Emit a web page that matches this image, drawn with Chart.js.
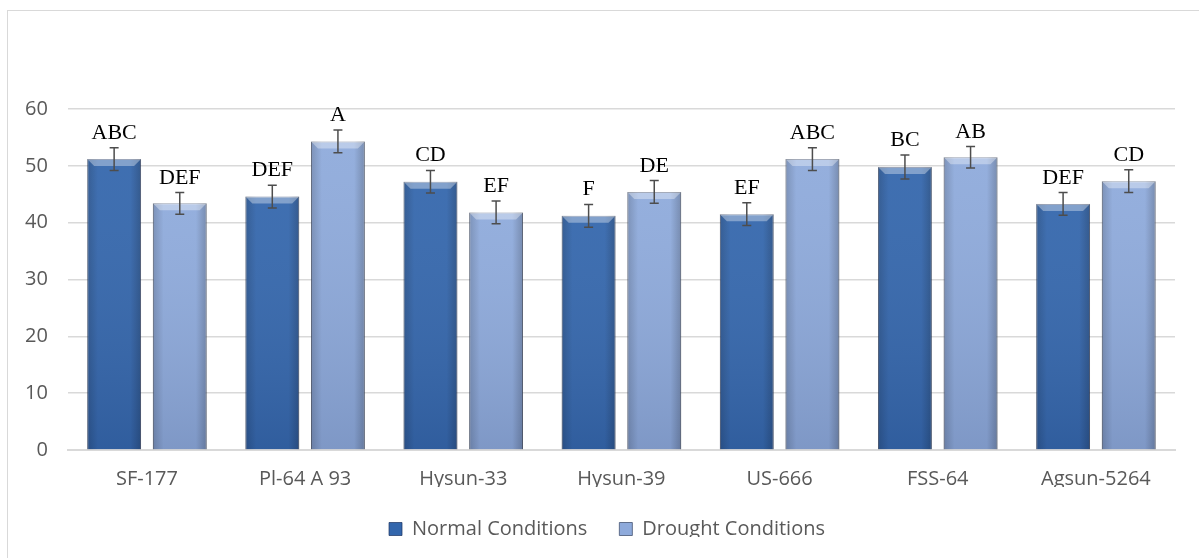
<!DOCTYPE html>
<html>
<head>
<meta charset="utf-8">
<script src="https://cdn.jsdelivr.net/npm/chart.js@4.4.0/dist/chart.umd.min.js"></script>
<style>
    html, body { margin: 0; padding: 0; background: #fff; }
    #wrap { width: 1199px; height: 558px; position: relative; }
</style>
</head>
<body>
<div id="wrap"><canvas id="chart"></canvas></div>
<script>
// Data
const categories = ['SF-177', 'Pl-64 A 93', 'Hysun-33', 'Hysun-39', 'US-666', 'FSS-64', 'Agsun-5264'];
const normalValues = [51.2, 44.6, 47.2, 41.2, 41.5, 49.8, 43.3];
const droughtValues = [43.4, 54.3, 41.8, 45.4, 51.2, 51.5, 47.3];
const normalErrors = [2.0, 2.0, 2.0, 2.0, 2.0, 2.1, 2.0];
const droughtErrors = [1.9, 2.0, 2.0, 2.0, 2.0, 1.9, 2.0];
const normalLetters = ['ABC', 'DEF', 'CD', 'F', 'EF', 'BC', 'DEF'];
const droughtLetters = ['DEF', 'A', 'EF', 'DE', 'ABC', 'AB', 'CD'];
const yTicks = [0, 10, 20, 30, 40, 50, 60];

const errorsByDataset = [normalErrors, droughtErrors];
const lettersByDataset = [normalLetters, droughtLetters];

// Light frame around the chart, like the Excel chart area
const frame = {
    id: 'frame',
    beforeDraw(chart) {
        const ctx = chart.ctx;
        ctx.save();
        ctx.fillStyle = '#fff';
        ctx.fillRect(0, 0, chart.width, chart.height);
        ctx.strokeStyle = '#d9d9d9';
        ctx.lineWidth = 1;
        ctx.strokeRect(7.5, 10.5, chart.width + 20, chart.height + 20);
        ctx.restore();
    }
};

// The original legend sits a little right of the plot centre
const legendShift = {
    id: 'legendShift',
    afterLayout(chart) {
        if (chart.legend) {
            chart.legend.left += 17;
            chart.legend.right += 17;
        }
    }
};

// Bevel shading, error bars and letter labels on each bar
const barDecor = {
    id: 'barDecor',
    afterDatasetsDraw(chart) {
        const ctx = chart.ctx;
        const yScale = chart.scales.y;
        ctx.save();
        chart.data.datasets.forEach((ds, di) => {
            const meta = chart.getDatasetMeta(di);
            meta.data.forEach((bar, i) => {
                const left = bar.x - bar.width / 2;
                const right = bar.x + bar.width / 2;
                const top = bar.y;
                const bottom = bar.base;

                // side shading
                const g = ctx.createLinearGradient(left, 0, right, 0);
                g.addColorStop(0, 'rgba(0,0,0,0.18)');
                g.addColorStop(0.2, 'rgba(0,0,0,0)');
                g.addColorStop(0.8, 'rgba(0,0,0,0)');
                g.addColorStop(1, 'rgba(0,0,0,0.22)');
                ctx.fillStyle = g;
                ctx.fillRect(left, top, right - left, bottom - top);

                // darker toward the bottom
                const v = ctx.createLinearGradient(0, top, 0, bottom);
                v.addColorStop(0, 'rgba(255,255,255,0.06)');
                v.addColorStop(1, 'rgba(30,40,70,0.14)');
                ctx.fillStyle = v;
                ctx.fillRect(left, top, right - left, bottom - top);

                // top bevel
                const b = 7;
                ctx.beginPath();
                ctx.moveTo(left, top);
                ctx.lineTo(right, top);
                ctx.lineTo(right - b, top + b);
                ctx.lineTo(left + b, top + b);
                ctx.closePath();
                ctx.fillStyle = 'rgba(255,255,255,0.35)';
                ctx.fill();

                // error bar
                const val = ds.data[i];
                const err = errorsByDataset[di][i];
                const yHi = yScale.getPixelForValue(val + err);
                const yLo = yScale.getPixelForValue(val - err);
                ctx.strokeStyle = '#4d4d4d';
                ctx.lineWidth = 1.5;
                ctx.beginPath();
                ctx.moveTo(bar.x, yHi);
                ctx.lineTo(bar.x, yLo);
                ctx.moveTo(bar.x - 4.5, yHi);
                ctx.lineTo(bar.x + 4.5, yHi);
                ctx.moveTo(bar.x - 4.5, yLo);
                ctx.lineTo(bar.x + 4.5, yLo);
                ctx.stroke();

                // letters
                ctx.fillStyle = '#000';
                ctx.font = '22px "Liberation Serif", "Times New Roman", serif';
                ctx.textAlign = 'center';
                ctx.textBaseline = 'alphabetic';
                ctx.fillText(lettersByDataset[di][i], bar.x, yHi - 9);
            });
        });
        ctx.restore();
    }
};

document.addEventListener('DOMContentLoaded', function() {
    const ctx = document.getElementById('chart').getContext('2d');
    new Chart(ctx, {
        type: 'bar',
        data: {
            labels: categories,
            datasets: [{
                label: 'Normal Conditions',
                data: normalValues,
                backgroundColor: '#3366ac',
                borderColor: 'rgba(25,50,95,0.7)',
                borderWidth: 1,
                categoryPercentage: 0.83,
                barPercentage: 0.82
            }, {
                label: 'Drought Conditions',
                data: droughtValues,
                backgroundColor: '#8eaadb',
                borderColor: 'rgba(70,85,115,0.8)',
                borderWidth: 1,
                categoryPercentage: 0.83,
                barPercentage: 0.82
            }]
        },
        options: {
            responsive: true,
            maintainAspectRatio: false,
            animation: false,
            layout: {
                padding: { top: 109, left: 5, right: 24, bottom: 21 }
            },
            plugins: {
                tooltip: { enabled: false },
                legend: {
                    position: 'bottom',
                    maxHeight: 50,
                    labels: {
                        boxWidth: 13,
                        boxHeight: 13,
                        padding: 32,
                        color: '#595959',
                        font: { family: '"Open Sans", sans-serif', size: 20 }
                    }
                }
            },
            scales: {
                x: {
                    grid: { display: false, drawTicks: false },
                    border: { color: '#d9d9d9', width: 2 },
                    afterFit(axis) {
                        axis.height = 37;
                    },
                    ticks: {
                        padding: 17,
                        color: '#595959',
                        font: { family: '"Open Sans", sans-serif', size: 20 }
                    }
                },
                y: {
                    min: 0,
                    max: 60,
                    afterBuildTicks(axis) {
                        axis.ticks = yTicks.map(v => ({ value: v }));
                    },
                    grid: { color: '#d9d9d9', lineWidth: 1.5, drawTicks: false },
                    border: { display: false },
                    ticks: {
                        padding: 20,
                        color: '#595959',
                        font: { family: '"Open Sans", sans-serif', size: 20 }
                    }
                }
            }
        },
        plugins: [frame, legendShift, barDecor]
    });
});
</script>
</body>
</html>
